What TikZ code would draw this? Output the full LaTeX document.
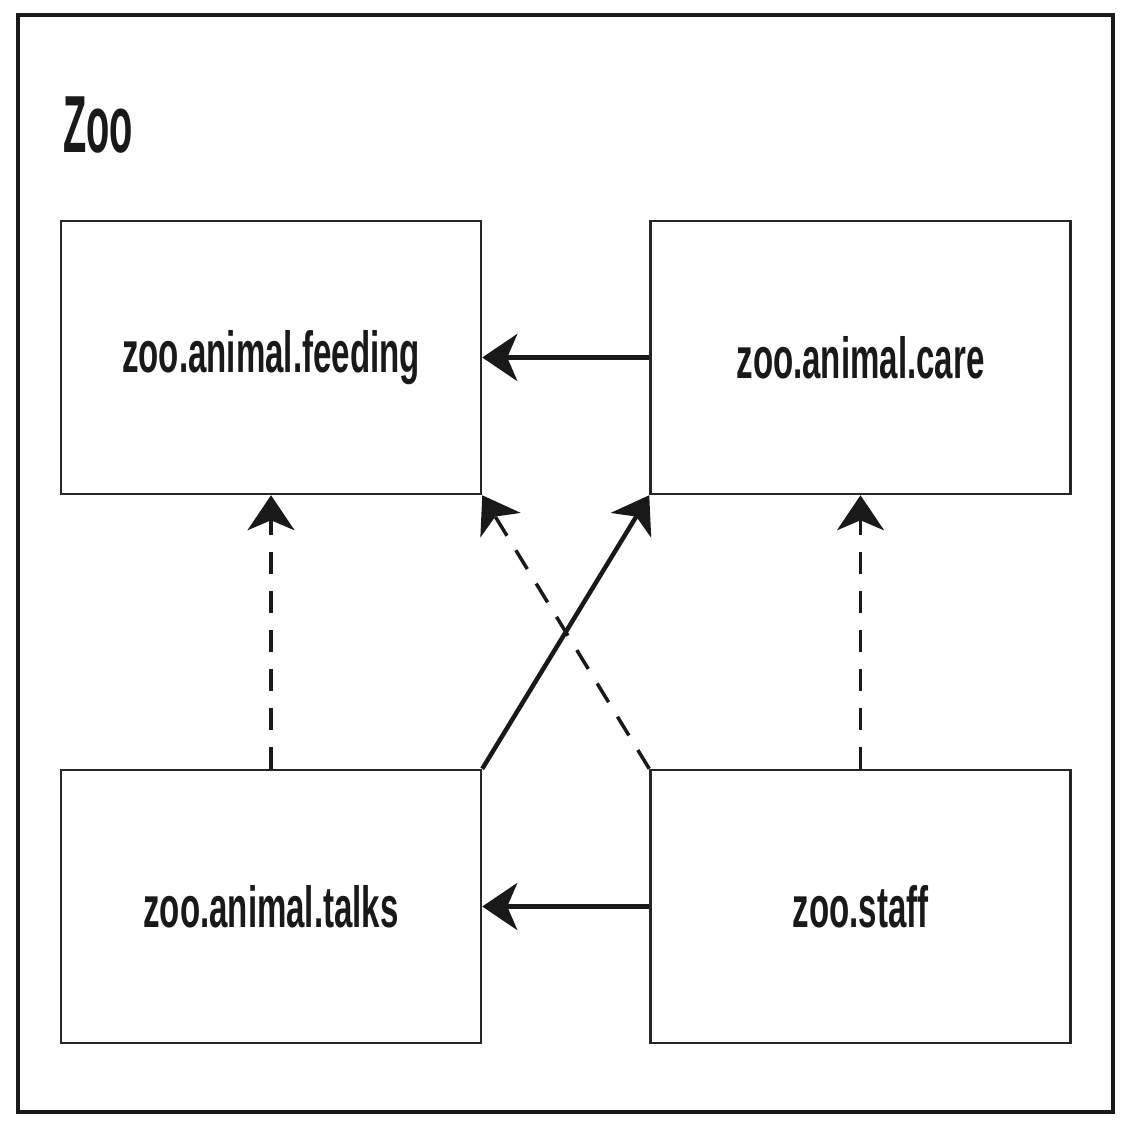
\documentclass[tikz,border=0pt]{standalone}
\usepackage{fontspec}
\setmainfont{Liberation Sans}[FakeStretch=0.57]
\newfontfamily\titlefam{Liberation Sans}[FakeStretch=0.47]
\usetikzlibrary{arrows.meta}
\begin{document}
\begin{tikzpicture}[x=1pt,y=-1pt,
  pkg/.style={draw=black!85, line width=2.5pt, minimum width=420pt, minimum height=273pt,
    inner sep=0pt, font=\fontsize{58}{60}\selectfont\bfseries, text=black!90},
  deparr/.style={line width=4.5pt, -{Stealth[length=35pt,width=47pt,inset=10pt]}, black!90},
  usearr/.style={line width=3.5pt, dash pattern=on 22pt off 17pt, -{Stealth[length=35pt,width=47pt,inset=10pt]}, black!90}]
  \useasboundingbox (0,0) rectangle (1129,1126);
  % outer frame of the zoo application
  \draw[line width=3.5pt, black!90] (18,15) rectangle (1113,1112);
  \node[anchor=base west, inner sep=0pt, font=\fontsize{81}{84}\selectfont\titlefam\bfseries, text=black!90] (title) at (63,153) {Zoo};
  % packages
  \node[pkg] (feed)  at (271,357.5) {zoo.animal.feeding};
  \node[pkg] (care)  at (860.5,357.5) {zoo.animal.care};
  \node[pkg] (talks) at (271,906.5) {zoo.animal.talks};
  \node[pkg] (staff) at (860.5,906.5) {zoo.staff};
  % dependencies
  \draw[deparr] (care.west) -- (feed.east);
  \draw[deparr] (staff.west) -- (talks.east);
  \draw[deparr] (talks.north east) -- (care.south west);
  \draw[usearr] (staff.north west) -- (feed.south east);
  \draw[usearr] (talks.north) -- (feed.south);
  \draw[usearr] (staff.north) -- (care.south);
\end{tikzpicture}
\end{document}
